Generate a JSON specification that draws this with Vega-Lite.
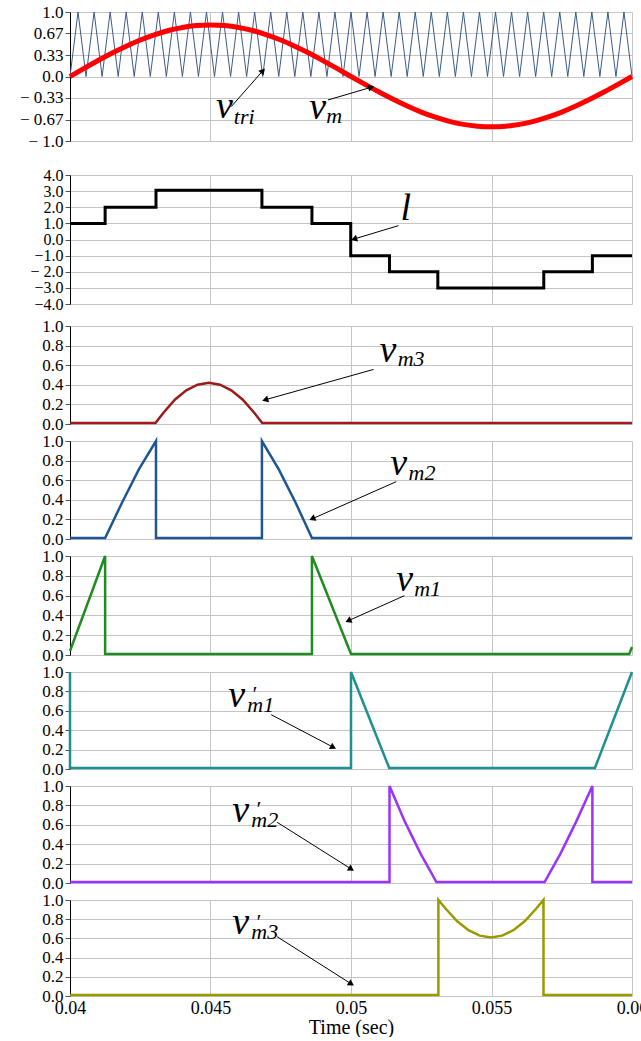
{
"$schema": "https://vega.github.io/schema/vega-lite/v6.json",
"padding": {"left": 19, "top": 3, "right": 0, "bottom": 0},
"config": {
  "view": {"stroke": null},
  "font": "Liberation Serif",
  "axis": {"labelFont": "Liberation Serif", "labelFontSize": 17, "labelColor": "#000", "labelOverlap": false, "gridColor": "#c4c4c4"},
  "style": {"guide-label": {"font": "Liberation Serif", "fontSize": 17, "fill": "#000"}, "guide-title": {"font": "Liberation Serif", "fontSize": 20, "fontWeight": "normal", "fill": "#000"}}
},
"datasets": {
  "tri": [
    {"t":0.04,"v":0},{"t":0.0402857,"v":1},{"t":0.0405714,"v":0},{"t":0.0408571,"v":1},{"t":0.0411429,"v":0},{"t":0.0414286,"v":1},{"t":0.0417143,"v":0},
    {"t":0.042,"v":1},{"t":0.0422857,"v":0},{"t":0.0425714,"v":1},{"t":0.0428571,"v":0},{"t":0.0431429,"v":1},{"t":0.0434286,"v":0},{"t":0.0437143,"v":1},
    {"t":0.044,"v":0},{"t":0.0442857,"v":1},{"t":0.0445714,"v":0},{"t":0.0448571,"v":1},{"t":0.0451429,"v":0},{"t":0.0454286,"v":1},{"t":0.0457143,"v":0},
    {"t":0.046,"v":1},{"t":0.0462857,"v":0},{"t":0.0465714,"v":1},{"t":0.0468571,"v":0},{"t":0.0471429,"v":1},{"t":0.0474286,"v":0},{"t":0.0477143,"v":1},
    {"t":0.048,"v":0},{"t":0.0482857,"v":1},{"t":0.0485714,"v":0},{"t":0.0488571,"v":1},{"t":0.0491429,"v":0},{"t":0.0494286,"v":1},{"t":0.0497143,"v":0},
    {"t":0.05,"v":1},{"t":0.0502857,"v":0},{"t":0.0505714,"v":1},{"t":0.0508571,"v":0},{"t":0.0511429,"v":1},{"t":0.0514286,"v":0},{"t":0.0517143,"v":1},
    {"t":0.052,"v":0},{"t":0.0522857,"v":1},{"t":0.0525714,"v":0},{"t":0.0528571,"v":1},{"t":0.0531429,"v":0},{"t":0.0534286,"v":1},{"t":0.0537143,"v":0},
    {"t":0.054,"v":1},{"t":0.0542857,"v":0},{"t":0.0545714,"v":1},{"t":0.0548571,"v":0},{"t":0.0551429,"v":1},{"t":0.0554286,"v":0},{"t":0.0557143,"v":1},
    {"t":0.056,"v":0},{"t":0.0562857,"v":1},{"t":0.0565714,"v":0},{"t":0.0568571,"v":1},{"t":0.0571429,"v":0},{"t":0.0574286,"v":1},{"t":0.0577143,"v":0},
    {"t":0.058,"v":1},{"t":0.0582857,"v":0},{"t":0.0585714,"v":1},{"t":0.0588571,"v":0},{"t":0.0591429,"v":1},{"t":0.0594286,"v":0},{"t":0.0597143,"v":1},
    {"t":0.06,"v":0}
  ],
  "vm": [
    {"t":0.04,"v":0},{"t":0.0405,"v":0.125},{"t":0.041,"v":0.247},{"t":0.0415,"v":0.363},{"t":0.042,"v":0.47},{"t":0.0425,"v":0.566},{"t":0.043,"v":0.647},{"t":0.0435,"v":0.713},{"t":0.044,"v":0.761},{"t":0.0445,"v":0.79},
    {"t":0.045,"v":0.8},{"t":0.0455,"v":0.79},{"t":0.046,"v":0.761},{"t":0.0465,"v":0.713},{"t":0.047,"v":0.647},{"t":0.0475,"v":0.566},{"t":0.048,"v":0.47},{"t":0.0485,"v":0.363},{"t":0.049,"v":0.247},{"t":0.0495,"v":0.125},
    {"t":0.05,"v":0},{"t":0.0505,"v":-0.122},{"t":0.051,"v":-0.241},{"t":0.0515,"v":-0.354},{"t":0.052,"v":-0.458},{"t":0.0525,"v":-0.552},{"t":0.053,"v":-0.631},{"t":0.0535,"v":-0.695},{"t":0.054,"v":-0.742},{"t":0.0545,"v":-0.77},
    {"t":0.055,"v":-0.78},{"t":0.0555,"v":-0.77},{"t":0.056,"v":-0.742},{"t":0.0565,"v":-0.695},{"t":0.057,"v":-0.631},{"t":0.0575,"v":-0.552},{"t":0.058,"v":-0.458},{"t":0.0585,"v":-0.354},{"t":0.059,"v":-0.241},{"t":0.0595,"v":-0.122},
    {"t":0.06,"v":0}
  ],
  "lev": [
    {"t":0.04,"v":1},{"t":0.04125,"v":1},{"t":0.04125,"v":2},{"t":0.04306,"v":2},{"t":0.04306,"v":3.05},{"t":0.04683,"v":3.05},{"t":0.04683,"v":2},{"t":0.04861,"v":2},{"t":0.04861,"v":1},{"t":0.04999,"v":1},
    {"t":0.04999,"v":-1},{"t":0.05137,"v":-1},{"t":0.05137,"v":-2},{"t":0.05309,"v":-2},{"t":0.05309,"v":-3},{"t":0.05686,"v":-3},{"t":0.05686,"v":-2},{"t":0.05859,"v":-2},{"t":0.05859,"v":-1},{"t":0.06,"v":-1}
  ],
  "m3": [
    {"t":0.04,"v":0.01},{"t":0.04304,"v":0.01},{"t":0.04334,"v":0.12},{"t":0.04374,"v":0.25},{"t":0.04414,"v":0.344},{"t":0.04454,"v":0.401},{"t":0.04494,"v":0.42},{"t":0.04534,"v":0.401},{"t":0.04574,"v":0.344},{"t":0.04614,"v":0.25},{"t":0.04654,"v":0.12},{"t":0.04684,"v":0.01},{"t":0.06,"v":0.01}
  ],
  "m2": [
    {"t":0.04,"v":0.01},{"t":0.04125,"v":0.01},{"t":0.04185,"v":0.37},{"t":0.04245,"v":0.71},{"t":0.04306,"v":1},{"t":0.04306,"v":0.01},{"t":0.04683,"v":0.01},{"t":0.04683,"v":1},{"t":0.04743,"v":0.71},{"t":0.04803,"v":0.37},{"t":0.04861,"v":0.01},{"t":0.06,"v":0.01}
  ],
  "m1": [
    {"t":0.04,"v":0.04},{"t":0.04125,"v":1},{"t":0.04125,"v":0.01},{"t":0.04861,"v":0.01},{"t":0.04861,"v":1},{"t":0.05,"v":0.01},{"t":0.0599,"v":0.01},{"t":0.06,"v":0.08}
  ],
  "pm1": [
    {"t":0.04,"v":1},{"t":0.04,"v":0.01},{"t":0.05,"v":0.01},{"t":0.05,"v":1},{"t":0.05136,"v":0.01},{"t":0.05868,"v":0.01},{"t":0.06,"v":1}
  ],
  "pm2": [
    {"t":0.04,"v":0.01},{"t":0.05137,"v":0.01},{"t":0.05137,"v":1},{"t":0.05192,"v":0.63},{"t":0.05248,"v":0.3},{"t":0.05304,"v":0.01},{"t":0.05689,"v":0.01},{"t":0.05745,"v":0.3},{"t":0.05801,"v":0.63},{"t":0.05859,"v":1},{"t":0.05859,"v":0.01},{"t":0.06,"v":0.01}
  ],
  "pm3": [
    {"t":0.04,"v":0.01},{"t":0.05311,"v":0.01},{"t":0.05311,"v":1},{"t":0.05338,"v":0.906},{"t":0.05378,"v":0.778},{"t":0.05418,"v":0.685},{"t":0.05458,"v":0.629},{"t":0.05498,"v":0.61},{"t":0.05538,"v":0.629},{"t":0.05578,"v":0.685},{"t":0.05618,"v":0.778},{"t":0.05658,"v":0.906},{"t":0.05685,"v":1},{"t":0.05685,"v":0.01},{"t":0.06,"v":0.01}
  ]
},
"spacing": 34,
"bounds": "flush",
"vconcat": [
  {
    "width": 562, "height": 129,
    "resolve": {"axis": {"x": "independent", "y": "independent"}},
    "layer": [
      {"data": {"name": "tri"}, "mark": {"type": "line", "color": "#3a5a8c", "strokeWidth": 1},
       "encoding": {
         "x": {"field": "t", "type": "quantitative", "scale": {"domain": [0.04, 0.06], "nice": false, "zero": false}, "axis": {"values": [0.04, 0.045, 0.05, 0.055, 0.06], "labels": false, "ticks": false, "domain": false, "title": null, "grid": true, "gridColor": "#c4c4c4", "gridWidth": 1}},
         "y": {"field": "v", "type": "quantitative", "scale": {"domain": [-1, 1], "nice": false, "zero": false}, "axis": {"values": [-1, -0.67, -0.33, 0, 0.33, 0.67, 1], "title": null, "grid": true, "gridColor": "#c4c4c4", "gridWidth": 1, "labelOverlap": false, "labelFont": "Liberation Serif", "labelFontSize": 17, "labelColor": "#000", "labelPadding": 2, "tickSize": 5, "tickColor": "#555", "domainColor": "#000", "labelExpr": "datum.value == 0 ? '0.0' : (datum.value < 0 ? '− ' : '') + (abs(datum.value) == 1 ? '1.0' : format(abs(datum.value), '.2f'))"}},
         "order": {"value": null}}},
      {"data": {"name": "vm"}, "mark": {"type": "line", "color": "#ff0000", "strokeWidth": 5, "interpolate": "monotone"},
       "encoding": {"x": {"field": "t", "type": "quantitative", "axis": null}, "y": {"field": "v", "type": "quantitative", "axis": null}}},
      {"data": {"values": [{"t": 0.0452, "v": -0.643, "s": "v"}, {"t": 0.04851, "v": -0.659, "s": "v"}]},
       "mark": {"type": "text", "font": "Liberation Serif", "fontStyle": "italic", "fontSize": 38, "align": "left", "baseline": "alphabetic", "color": "#000"},
       "encoding": {"x": {"field": "t", "type": "quantitative", "axis": null}, "y": {"field": "v", "type": "quantitative", "axis": null}, "text": {"field": "s"}}},
      {"data": {"values": [{"t": 0.04583, "v": -0.736, "s": "tri"}, {"t": 0.04912, "v": -0.716, "s": "m"}]},
       "mark": {"type": "text", "font": "Liberation Serif", "fontStyle": "italic", "fontSize": 22, "align": "left", "baseline": "alphabetic", "color": "#000"},
       "encoding": {"x": {"field": "t", "type": "quantitative", "axis": null}, "y": {"field": "v", "type": "quantitative", "axis": null}, "text": {"field": "s"}}},
      {"data": {"values": [{"t": 0.045736, "v": -0.468, "t2": 0.046865, "v2": 0.09}, {"t": 0.04918, "v": -0.364, "t2": 0.05072, "v2": -0.167}]},
       "mark": {"type": "rule", "color": "#000", "strokeWidth": 1},
       "encoding": {"x": {"field": "t", "type": "quantitative", "axis": null}, "y": {"field": "v", "type": "quantitative", "axis": null}, "x2": {"field": "t2"}, "y2": {"field": "v2"}}},
      {"data": {"values": [{"t2": 0.046865, "v2": 0.09}]},
       "mark": {"type": "point", "shape": "triangle-up", "filled": true, "color": "#000", "opacity": 1, "size": 50, "angle": 41},
       "encoding": {"x": {"field": "t2", "type": "quantitative", "axis": null}, "y": {"field": "v2", "type": "quantitative", "axis": null}}},
      {"data": {"values": [{"t2": 0.05072, "v2": -0.167}]},
       "mark": {"type": "point", "shape": "triangle-up", "filled": true, "color": "#000", "opacity": 1, "size": 50, "angle": 74},
       "encoding": {"x": {"field": "t2", "type": "quantitative", "axis": null}, "y": {"field": "v2", "type": "quantitative", "axis": null}}}
    ]
  },
  {
    "spacing": 22,
    "bounds": "flush",
    "vconcat": [
      {
        "width": 562, "height": 129,
        "resolve": {"axis": {"x": "independent", "y": "independent"}},
        "layer": [
          {"data": {"name": "lev"}, "mark": {"type": "line", "color": "#000", "strokeWidth": 3},
           "encoding": {
             "x": {"field": "t", "type": "quantitative", "scale": {"domain": [0.04, 0.06], "nice": false, "zero": false}, "axis": {"values": [0.04, 0.045, 0.05, 0.055, 0.06], "labels": false, "ticks": false, "domain": false, "title": null, "grid": true, "gridColor": "#c4c4c4", "gridWidth": 1}},
             "y": {"field": "v", "type": "quantitative", "scale": {"domain": [-4, 4], "nice": false, "zero": false}, "axis": {"values": [-4, -3, -2, -1, 0, 1, 2, 3, 4], "title": null, "grid": true, "gridColor": "#c4c4c4", "gridWidth": 1, "labelOverlap": false, "labelFont": "Liberation Serif", "labelFontSize": 16, "labelColor": "#000", "labelPadding": 2, "tickSize": 5, "tickColor": "#555", "domainColor": "#000", "labelExpr": "datum.value == -2 ? '− 2.0' : datum.value < 0 ? '−' + format(-datum.value, '.1f') : format(datum.value, '.1f')"}},
             "order": {"value": null}}},
          {"data": {"values": [{"t": 0.05176, "v": 1.21, "s": "l"}]},
           "mark": {"type": "text", "font": "Liberation Serif", "fontStyle": "italic", "fontSize": 38, "align": "left", "baseline": "alphabetic", "color": "#000"},
           "encoding": {"x": {"field": "t", "type": "quantitative", "axis": null}, "y": {"field": "v", "type": "quantitative", "axis": null}, "text": {"field": "s"}}},
          {"data": {"values": [{"t": 0.05169, "v": 0.86, "t2": 0.05011, "v2": 0.03}]},
           "mark": {"type": "rule", "color": "#000", "strokeWidth": 1},
           "encoding": {"x": {"field": "t", "type": "quantitative", "axis": null}, "y": {"field": "v", "type": "quantitative", "axis": null}, "x2": {"field": "t2"}, "y2": {"field": "v2"}}},
          {"data": {"values": [{"t2": 0.05011, "v2": 0.03}]},
           "mark": {"type": "point", "shape": "triangle-up", "filled": true, "color": "#000", "opacity": 1, "size": 50, "angle": 253},
           "encoding": {"x": {"field": "t2", "type": "quantitative", "axis": null}, "y": {"field": "v2", "type": "quantitative", "axis": null}}}
        ]
      },
      {
        "spacing": 17,
        "bounds": "flush",
        "vconcat": [
          {
            "width": 562, "height": 98,
            "resolve": {"axis": {"x": "independent", "y": "independent"}},
            "layer": [
              {"data": {"name": "m3"}, "mark": {"type": "line", "color": "#9b1b1b", "strokeWidth": 2.5},
               "encoding": {
                 "x": {"field": "t", "type": "quantitative", "scale": {"domain": [0.04, 0.06], "nice": false, "zero": false}, "axis": {"values": [0.04, 0.045, 0.05, 0.055, 0.06], "labels": false, "ticks": false, "domain": false, "title": null, "grid": true, "gridColor": "#c4c4c4", "gridWidth": 1}},
                 "y": {"field": "v", "type": "quantitative", "scale": {"domain": [0, 1], "nice": false}, "axis": {"values": [0, 0.2, 0.4, 0.6, 0.8, 1], "format": ".1f", "title": null, "grid": true, "gridColor": "#c4c4c4", "gridWidth": 1, "labelOverlap": false, "labelFont": "Liberation Serif", "labelFontSize": 17, "labelColor": "#000", "labelPadding": 2, "tickSize": 5, "tickColor": "#555", "domainColor": "#000"}},
                 "order": {"value": null}}},
              {"data": {"values": [{"t": 0.05101, "v": 0.629, "s": "v"}]},
               "mark": {"type": "text", "font": "Liberation Serif", "fontStyle": "italic", "fontSize": 38, "align": "left", "baseline": "alphabetic", "color": "#000"},
               "encoding": {"x": {"field": "t", "type": "quantitative", "axis": null}, "y": {"field": "v", "type": "quantitative", "axis": null}, "text": {"field": "s"}}},
              {"data": {"values": [{"t": 0.05166, "v": 0.588, "s": "m3"}]},
               "mark": {"type": "text", "font": "Liberation Serif", "fontStyle": "italic", "fontSize": 22, "align": "left", "baseline": "alphabetic", "color": "#000"},
               "encoding": {"x": {"field": "t", "type": "quantitative", "axis": null}, "y": {"field": "v", "type": "quantitative", "axis": null}, "text": {"field": "s"}}},
              {"data": {"values": [{"t": 0.050805, "v": 0.557, "t2": 0.046947, "v2": 0.247}]},
               "mark": {"type": "rule", "color": "#000", "strokeWidth": 1},
               "encoding": {"x": {"field": "t", "type": "quantitative", "axis": null}, "y": {"field": "v", "type": "quantitative", "axis": null}, "x2": {"field": "t2"}, "y2": {"field": "v2"}}},
              {"data": {"values": [{"t2": 0.046947, "v2": 0.247}]},
               "mark": {"type": "point", "shape": "triangle-up", "filled": true, "color": "#000", "opacity": 1, "size": 50, "angle": 254},
               "encoding": {"x": {"field": "t2", "type": "quantitative", "axis": null}, "y": {"field": "v2", "type": "quantitative", "axis": null}}}
            ]
          },
          {
            "width": 562, "height": 98,
            "resolve": {"axis": {"x": "independent", "y": "independent"}},
            "layer": [
              {"data": {"name": "m2"}, "mark": {"type": "line", "color": "#1f5596", "strokeWidth": 2.5},
               "encoding": {
                 "x": {"field": "t", "type": "quantitative", "scale": {"domain": [0.04, 0.06], "nice": false, "zero": false}, "axis": {"values": [0.04, 0.045, 0.05, 0.055, 0.06], "labels": false, "ticks": false, "domain": false, "title": null, "grid": true, "gridColor": "#c4c4c4", "gridWidth": 1}},
                 "y": {"field": "v", "type": "quantitative", "scale": {"domain": [0, 1], "nice": false}, "axis": {"values": [0, 0.2, 0.4, 0.6, 0.8, 1], "format": ".1f", "title": null, "grid": true, "gridColor": "#c4c4c4", "gridWidth": 1, "labelOverlap": false, "labelFont": "Liberation Serif", "labelFontSize": 17, "labelColor": "#000", "labelPadding": 2, "tickSize": 5, "tickColor": "#555", "domainColor": "#000"}},
                 "order": {"value": null}}},
              {"data": {"values": [{"t": 0.0514, "v": 0.649, "s": "v"}]},
               "mark": {"type": "text", "font": "Liberation Serif", "fontStyle": "italic", "fontSize": 38, "align": "left", "baseline": "alphabetic", "color": "#000"},
               "encoding": {"x": {"field": "t", "type": "quantitative", "axis": null}, "y": {"field": "v", "type": "quantitative", "axis": null}, "text": {"field": "s"}}},
              {"data": {"values": [{"t": 0.05205, "v": 0.598, "s": "m2"}]},
               "mark": {"type": "text", "font": "Liberation Serif", "fontStyle": "italic", "fontSize": 22, "align": "left", "baseline": "alphabetic", "color": "#000"},
               "encoding": {"x": {"field": "t", "type": "quantitative", "axis": null}, "y": {"field": "v", "type": "quantitative", "axis": null}, "text": {"field": "s"}}},
              {"data": {"values": [{"t": 0.05161, "v": 0.585, "t2": 0.04862, "v2": 0.206}]},
               "mark": {"type": "rule", "color": "#000", "strokeWidth": 1},
               "encoding": {"x": {"field": "t", "type": "quantitative", "axis": null}, "y": {"field": "v", "type": "quantitative", "axis": null}, "x2": {"field": "t2"}, "y2": {"field": "v2"}}},
              {"data": {"values": [{"t2": 0.04862, "v2": 0.206}]},
               "mark": {"type": "point", "shape": "triangle-up", "filled": true, "color": "#000", "opacity": 1, "size": 50, "angle": 246},
               "encoding": {"x": {"field": "t2", "type": "quantitative", "axis": null}, "y": {"field": "v2", "type": "quantitative", "axis": null}}}
            ]
          },
          {
            "width": 562, "height": 99,
            "resolve": {"axis": {"x": "independent", "y": "independent"}},
            "layer": [
              {"data": {"name": "m1"}, "mark": {"type": "line", "color": "#1e8c1e", "strokeWidth": 2.5},
               "encoding": {
                 "x": {"field": "t", "type": "quantitative", "scale": {"domain": [0.04, 0.06], "nice": false, "zero": false}, "axis": {"values": [0.04, 0.045, 0.05, 0.055, 0.06], "labels": false, "ticks": false, "domain": false, "title": null, "grid": true, "gridColor": "#c4c4c4", "gridWidth": 1}},
                 "y": {"field": "v", "type": "quantitative", "scale": {"domain": [0, 1], "nice": false}, "axis": {"values": [0, 0.2, 0.4, 0.6, 0.8, 1], "format": ".1f", "title": null, "grid": true, "gridColor": "#c4c4c4", "gridWidth": 1, "labelOverlap": false, "labelFont": "Liberation Serif", "labelFontSize": 17, "labelColor": "#000", "labelPadding": 2, "tickSize": 5, "tickColor": "#555", "domainColor": "#000"}},
                 "order": {"value": null}}},
              {"data": {"values": [{"t": 0.05161, "v": 0.646, "s": "v"}]},
               "mark": {"type": "text", "font": "Liberation Serif", "fontStyle": "italic", "fontSize": 38, "align": "left", "baseline": "alphabetic", "color": "#000"},
               "encoding": {"x": {"field": "t", "type": "quantitative", "axis": null}, "y": {"field": "v", "type": "quantitative", "axis": null}, "text": {"field": "s"}}},
              {"data": {"values": [{"t": 0.05225, "v": 0.596, "s": "m1"}]},
               "mark": {"type": "text", "font": "Liberation Serif", "fontStyle": "italic", "fontSize": 22, "align": "left", "baseline": "alphabetic", "color": "#000"},
               "encoding": {"x": {"field": "t", "type": "quantitative", "axis": null}, "y": {"field": "v", "type": "quantitative", "axis": null}, "text": {"field": "s"}}},
              {"data": {"values": [{"t": 0.0519, "v": 0.599, "t2": 0.049904, "v2": 0.346}]},
               "mark": {"type": "rule", "color": "#000", "strokeWidth": 1},
               "encoding": {"x": {"field": "t", "type": "quantitative", "axis": null}, "y": {"field": "v", "type": "quantitative", "axis": null}, "x2": {"field": "t2"}, "y2": {"field": "v2"}}},
              {"data": {"values": [{"t2": 0.049904, "v2": 0.346}]},
               "mark": {"type": "point", "shape": "triangle-up", "filled": true, "color": "#000", "opacity": 1, "size": 50, "angle": 246},
               "encoding": {"x": {"field": "t2", "type": "quantitative", "axis": null}, "y": {"field": "v2", "type": "quantitative", "axis": null}}}
            ]
          },
          {
            "width": 562, "height": 97,
            "resolve": {"axis": {"x": "independent", "y": "independent"}},
            "layer": [
              {"data": {"name": "pm1"}, "mark": {"type": "line", "color": "#1e9090", "strokeWidth": 2.5},
               "encoding": {
                 "x": {"field": "t", "type": "quantitative", "scale": {"domain": [0.04, 0.06], "nice": false, "zero": false}, "axis": {"values": [0.04, 0.045, 0.05, 0.055, 0.06], "labels": false, "ticks": false, "domain": false, "title": null, "grid": true, "gridColor": "#c4c4c4", "gridWidth": 1}},
                 "y": {"field": "v", "type": "quantitative", "scale": {"domain": [0, 1], "nice": false}, "axis": {"values": [0, 0.2, 0.4, 0.6, 0.8, 1], "format": ".1f", "title": null, "grid": true, "gridColor": "#c4c4c4", "gridWidth": 1, "labelOverlap": false, "labelFont": "Liberation Serif", "labelFontSize": 17, "labelColor": "#000", "labelPadding": 2, "tickSize": 5, "tickColor": "#555", "domainColor": "#000"}},
                 "order": {"value": null}}},
              {"data": {"values": [{"t": 0.04563, "v": 0.639, "s": "v"}]},
               "mark": {"type": "text", "font": "Liberation Serif", "fontStyle": "italic", "fontSize": 38, "align": "left", "baseline": "alphabetic", "color": "#000"},
               "encoding": {"x": {"field": "t", "type": "quantitative", "axis": null}, "y": {"field": "v", "type": "quantitative", "axis": null}, "text": {"field": "s"}}},
              {"data": {"values": [{"t": 0.04631, "v": 0.588, "s": "m1"}, {"t": 0.04645, "v": 0.7, "s": "′"}]},
               "mark": {"type": "text", "font": "Liberation Serif", "fontStyle": "italic", "fontSize": 22, "align": "left", "baseline": "alphabetic", "color": "#000"},
               "encoding": {"x": {"field": "t", "type": "quantitative", "axis": null}, "y": {"field": "v", "type": "quantitative", "axis": null}, "text": {"field": "s"}}},
              {"data": {"values": [{"t": 0.04716, "v": 0.56, "t2": 0.04937, "v2": 0.224}]},
               "mark": {"type": "rule", "color": "#000", "strokeWidth": 1},
               "encoding": {"x": {"field": "t", "type": "quantitative", "axis": null}, "y": {"field": "v", "type": "quantitative", "axis": null}, "x2": {"field": "t2"}, "y2": {"field": "v2"}}},
              {"data": {"values": [{"t2": 0.04937, "v2": 0.224}]},
               "mark": {"type": "point", "shape": "triangle-up", "filled": true, "color": "#000", "opacity": 1, "size": 50, "angle": 118},
               "encoding": {"x": {"field": "t2", "type": "quantitative", "axis": null}, "y": {"field": "v2", "type": "quantitative", "axis": null}}}
            ]
          },
          {
            "width": 562, "height": 97,
            "resolve": {"axis": {"x": "independent", "y": "independent"}},
            "layer": [
              {"data": {"name": "pm2"}, "mark": {"type": "line", "color": "#9933ff", "strokeWidth": 2.5},
               "encoding": {
                 "x": {"field": "t", "type": "quantitative", "scale": {"domain": [0.04, 0.06], "nice": false, "zero": false}, "axis": {"values": [0.04, 0.045, 0.05, 0.055, 0.06], "labels": false, "ticks": false, "domain": false, "title": null, "grid": true, "gridColor": "#c4c4c4", "gridWidth": 1}},
                 "y": {"field": "v", "type": "quantitative", "scale": {"domain": [0, 1], "nice": false}, "axis": {"values": [0, 0.2, 0.4, 0.6, 0.8, 1], "format": ".1f", "title": null, "grid": true, "gridColor": "#c4c4c4", "gridWidth": 1, "labelOverlap": false, "labelFont": "Liberation Serif", "labelFontSize": 17, "labelColor": "#000", "labelPadding": 2, "tickSize": 5, "tickColor": "#555", "domainColor": "#000"}},
                 "order": {"value": null}}},
              {"data": {"values": [{"t": 0.04577, "v": 0.629, "s": "v"}]},
               "mark": {"type": "text", "font": "Liberation Serif", "fontStyle": "italic", "fontSize": 38, "align": "left", "baseline": "alphabetic", "color": "#000"},
               "encoding": {"x": {"field": "t", "type": "quantitative", "axis": null}, "y": {"field": "v", "type": "quantitative", "axis": null}, "text": {"field": "s"}}},
              {"data": {"values": [{"t": 0.04645, "v": 0.577, "s": "m2"}, {"t": 0.04659, "v": 0.69, "s": "′"}]},
               "mark": {"type": "text", "font": "Liberation Serif", "fontStyle": "italic", "fontSize": 22, "align": "left", "baseline": "alphabetic", "color": "#000"},
               "encoding": {"x": {"field": "t", "type": "quantitative", "axis": null}, "y": {"field": "v", "type": "quantitative", "axis": null}, "text": {"field": "s"}}},
              {"data": {"values": [{"t": 0.04737, "v": 0.626, "t2": 0.05001, "v2": 0.144}]},
               "mark": {"type": "rule", "color": "#000", "strokeWidth": 1},
               "encoding": {"x": {"field": "t", "type": "quantitative", "axis": null}, "y": {"field": "v", "type": "quantitative", "axis": null}, "x2": {"field": "t2"}, "y2": {"field": "v2"}}},
              {"data": {"values": [{"t2": 0.05001, "v2": 0.144}]},
               "mark": {"type": "point", "shape": "triangle-up", "filled": true, "color": "#000", "opacity": 1, "size": 50, "angle": 122},
               "encoding": {"x": {"field": "t2", "type": "quantitative", "axis": null}, "y": {"field": "v2", "type": "quantitative", "axis": null}}}
            ]
          },
          {
            "width": 562, "height": 96,
            "resolve": {"axis": {"x": "independent", "y": "independent"}},
            "layer": [
              {"data": {"name": "pm3"}, "mark": {"type": "line", "color": "#999900", "strokeWidth": 2.5},
               "encoding": {
                 "x": {"field": "t", "type": "quantitative", "scale": {"domain": [0.04, 0.06], "nice": false, "zero": false}, "axis": {"values": [0.04, 0.045, 0.05, 0.055, 0.06], "labels": true, "ticks": false, "domain": false, "labelExpr": "'' + datum.value", "labelFlush": false, "labelFont": "Liberation Serif", "labelFontSize": 18, "labelColor": "#000", "labelPadding": 3, "labelOverlap": false, "title": "Time (sec)", "titleFont": "Liberation Serif", "titleFontSize": 20, "titleFontWeight": "normal", "titleColor": "#000", "titlePadding": 0, "grid": true, "gridColor": "#c4c4c4", "gridWidth": 1}},
                 "y": {"field": "v", "type": "quantitative", "scale": {"domain": [0, 1], "nice": false}, "axis": {"values": [0, 0.2, 0.4, 0.6, 0.8, 1], "format": ".1f", "title": null, "grid": true, "gridColor": "#c4c4c4", "gridWidth": 1, "labelOverlap": false, "labelFont": "Liberation Serif", "labelFontSize": 17, "labelColor": "#000", "labelPadding": 2, "tickSize": 5, "tickColor": "#555", "domainColor": "#000"}},
                 "order": {"value": null}}},
              {"data": {"values": [{"t": 0.04577, "v": 0.642, "s": "v"}]},
               "mark": {"type": "text", "font": "Liberation Serif", "fontStyle": "italic", "fontSize": 38, "align": "left", "baseline": "alphabetic", "color": "#000"},
               "encoding": {"x": {"field": "t", "type": "quantitative", "axis": null}, "y": {"field": "v", "type": "quantitative", "axis": null}, "text": {"field": "s"}}},
              {"data": {"values": [{"t": 0.04645, "v": 0.589, "s": "m3"}, {"t": 0.04659, "v": 0.7, "s": "′"}]},
               "mark": {"type": "text", "font": "Liberation Serif", "fontStyle": "italic", "fontSize": 22, "align": "left", "baseline": "alphabetic", "color": "#000"},
               "encoding": {"x": {"field": "t", "type": "quantitative", "axis": null}, "y": {"field": "v", "type": "quantitative", "axis": null}, "text": {"field": "s"}}},
              {"data": {"values": [{"t": 0.04737, "v": 0.618, "t2": 0.05001, "v2": 0.126}]},
               "mark": {"type": "rule", "color": "#000", "strokeWidth": 1},
               "encoding": {"x": {"field": "t", "type": "quantitative", "axis": null}, "y": {"field": "v", "type": "quantitative", "axis": null}, "x2": {"field": "t2"}, "y2": {"field": "v2"}}},
              {"data": {"values": [{"t2": 0.05001, "v2": 0.126}]},
               "mark": {"type": "point", "shape": "triangle-up", "filled": true, "color": "#000", "opacity": 1, "size": 50, "angle": 122},
               "encoding": {"x": {"field": "t2", "type": "quantitative", "axis": null}, "y": {"field": "v2", "type": "quantitative", "axis": null}}}
            ]
          }
        ]
      }
    ]
  }
]
}
